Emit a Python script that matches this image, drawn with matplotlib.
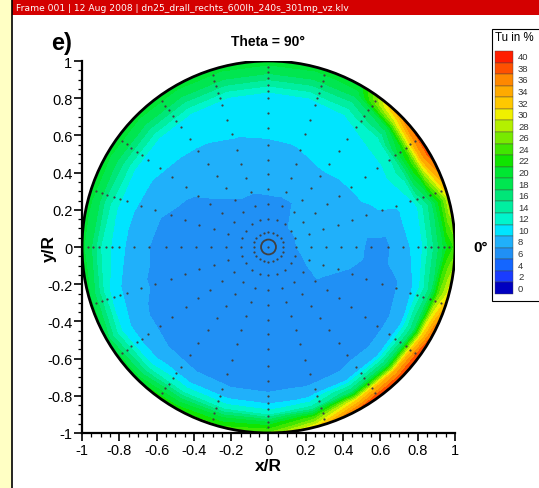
import numpy as np
import matplotlib
matplotlib.use("Agg")
import matplotlib.pyplot as plt
import matplotlib.tri as mtri
import matplotlib.patches as mp

plt.rcParams["font.family"] = ["Liberation Sans", "DejaVu Sans"]

W, H = 539, 489

# ---- Tu field (%), read on polar rings; angle from +x, counter-clockwise ----
ANGLES = [0, 15, 30, 45, 60, 75, 90, 105, 120, 135, 150, 165,
          180, 195, 210, 225, 240, 255, 270, 285, 300, 315, 330, 345]
RINGS = [0.15, 0.30, 0.45, 0.60, 0.72, 0.82, 0.90, 0.95, 1.00]
TU_CENTER = 6.0
TU_R015 = [7, 7, 7, 7, 6.5, 5.8, 5.5, 5.5, 5.5, 5.5, 5.5, 5.5,
           5.5, 5.5, 5.5, 5.5, 5.5, 5.5, 5.5, 5.5, 5.5, 5.8, 6.2, 6.8]
TU_R030 = [8, 8, 7.6, 7.4, 7.3, 7.2, 7.2, 7, 7, 6.6, 6, 5.6,
           5.5, 5.5, 5.5, 5.5, 5.5, 5.5, 5.5, 5.5, 5.5, 6.2, 7.2, 7.6]
TU_R045 = [7.6, 8, 8.2, 8.4, 8.6, 8.4, 8.2, 7.9, 7.8, 7.5, 6.6, 6.2,
           6, 5.8, 5.8, 5.6, 5.5, 5.5, 5.5, 5.5, 5.5, 5.6, 6, 7.0]
TU_R060 = [6.2, 8.6, 9.4, 9.6, 9.6, 9.2, 9.1, 8.9, 8.6, 8.3, 7.6, 7,
           6.5, 6.3, 6.2, 6, 5.8, 5.8, 5.8, 5.8, 5.8, 5.8, 6, 6.2]
TU_R072 = [8, 8.8, 10.4, 10.4, 10.2, 10, 10, 9.8, 9.6, 9.4, 9, 8.6,
           8, 7.4, 6.8, 6.5, 6.3, 6.2, 6.2, 6.2, 6.2, 6.2, 6.3, 7]
TU_R082 = [10.5, 10.5, 14, 12, 11, 10.4, 10.2, 10.2, 10.4, 10.4, 10.4, 10.2,
           10, 9, 8, 7.8, 7.6, 7.5, 7.5, 7.6, 7.8, 8.2, 8.8, 9.5]
TU_R090 = [16, 16, 24, 18, 15, 15, 15, 15, 15, 15, 15, 14,
           13, 11.5, 10.5, 11.5, 12.5, 12.5, 12.5, 14, 17, 18, 17, 16]
TU_R095 = [20, 22, 34, 28, 18, 18, 18, 18, 18, 18, 18, 18,
           17, 16, 14, 16, 18, 19, 20, 24, 31, 33, 31, 25]
TU_R100 = [24, 30, 39, 36, 21, 20, 20, 20, 20, 20, 20, 20,
           20, 20, 19, 21, 23, 24, 26, 32, 39, 40, 39, 31]
TU_RINGS = [TU_R015, TU_R030, TU_R045, TU_R060, TU_R072,
            TU_R082, TU_R090, TU_R095, TU_R100]

# ---- measurement positions (301 points) ----
MP_RADII = [0.08, 0.15, 0.23, 0.31, 0.39, 0.47, 0.55, 0.64,
            0.72, 0.80, 0.84, 0.87, 0.91, 0.94, 0.97]
MP_ANGLES = list(range(0, 360, 18))

# ---- legend levels / colours ----
LEVELS = list(range(0, 42, 2))
COLORS = ["#0000c0", "#1a3cff", "#1466ff", "#2090f5", "#20b0fa", "#00e4ff",
          "#00f5cc", "#00eea0", "#00e678", "#00e650", "#00e632", "#10e400",
          "#40e600", "#78ea00", "#b4f000", "#f0f000", "#ffc800", "#ffaa00",
          "#ff8800", "#ff5000", "#ff1e00"]

fig = plt.figure(figsize=(W / 100, H / 100), dpi=100)
fig.patch.set_facecolor("white")

# frame decorations in pixel coordinates
deco = fig.add_axes([0, 0, 1, 1], zorder=-1)
deco.set_xlim(0, W); deco.set_ylim(H, 0); deco.axis("off")
deco.add_patch(mp.Rectangle((0, 0), 12, H, facecolor="#ffffc4", edgecolor="none"))
deco.plot([12, 12], [0, H], color="black", lw=1.2)
deco.add_patch(mp.Rectangle((12, 0), W - 12, 16, facecolor="#d40000", edgecolor="none"))
deco.text(16, 8.5, "Frame 001 | 12 Aug 2008 | dn25_drall_rechts_600lh_240s_301mp_vz.klv",
          color="white", fontsize=6.6, va="center", ha="left",
          family=["Liberation Sans Narrow", "DejaVu Sans"])

# main axes: x=-1 at px 82, x=1 at px 455; y=1 at px 62, y=-1 at px 434
ax = fig.add_axes([82 / W, (H - 434) / H, 373 / W, 372 / H])
ax.set_xlim(-1, 1); ax.set_ylim(-1, 1)

th = np.deg2rad(ANGLES)
half = np.deg2rad(7.5)
xs, ys, zs = [0.0], [0.0], [TU_CENTER]
for r, vals in zip(RINGS, TU_RINGS):
    rr = r / np.cos(half) if r >= 1.0 else r
    xs += list(rr * np.cos(th)); ys += list(rr * np.sin(th)); zs += vals
tri = mtri.Triangulation(xs, ys)
bounds = [l - 1 for l in LEVELS] + [LEVELS[-1] + 1]
cs = ax.tricontourf(tri, zs, levels=bounds, colors=COLORS, zorder=1)
clip = mp.Circle((0, 0), 1.0, transform=ax.transData)
cs.set_clip_path(clip)

ax.add_patch(mp.Circle((0, 0), 1.0, fill=False, edgecolor="black", lw=2, zorder=4))

# measurement points
mth = np.deg2rad(MP_ANGLES)
px = [0.0] + [r * np.cos(a) for r in MP_RADII for a in mth]
py = [0.0] + [r * np.sin(a) for r in MP_RADII for a in mth]
ax.plot(px, py, ls="none", marker="o", ms=1.6, mfc="#404040", mec="none", zorder=3)
ax.add_patch(mp.Circle((0, 0), 0.04, fill=False, edgecolor="#404040", lw=1.3, zorder=3))

# axes styling
for s in ("top", "right"):
    ax.spines[s].set_visible(False)
for s in ("left", "bottom"):
    ax.spines[s].set_linewidth(1.6)
ticks = [-1, -0.8, -0.6, -0.4, -0.2, 0, 0.2, 0.4, 0.6, 0.8, 1]
labels = ["-1", "-0.8", "-0.6", "-0.4", "-0.2", "0", "0.2", "0.4", "0.6", "0.8", "1"]
ax.set_xticks(ticks); ax.set_xticklabels(labels)
ax.set_yticks(ticks); ax.set_yticklabels(labels)
ax.set_xticks(np.arange(-1, 1.001, 0.05), minor=True)
ax.set_yticks(np.arange(-1, 1.001, 0.05), minor=True)
ax.tick_params(which="major", direction="out", length=6, width=1.2, labelsize=10.5, pad=1)
ax.tick_params(which="minor", direction="out", length=3, width=0.9)

ax.text(0, -1.175, "x/R", ha="center", va="center", fontsize=12.5, fontweight="bold", clip_on=False)
ax.text(-1.175, 0, "y/R", ha="center", va="center", rotation=90, fontsize=12.5,
        fontweight="bold", clip_on=False)
ax.text(1.135, 0.0, "0°", ha="center", va="center", fontsize=11, fontweight="bold", clip_on=False)
ax.text(0, 1.11, "Theta = 90°", ha="center", va="center", fontsize=10, fontweight="bold", clip_on=False)
ax.text(-1.11, 1.10, "e)", ha="center", va="center", fontsize=17, fontweight="bold", clip_on=False)

# legend (Tecplot style)
leg = fig.add_axes([0, 0, 1, 1], zorder=5)
leg.set_xlim(0, W); leg.set_ylim(H, 0); leg.axis("off")
leg.add_patch(mp.Rectangle((492, 30), 60, 272, facecolor="white", edgecolor="black", lw=0.8))
leg.text(495, 38, "Tu in %", fontsize=8.3, va="center", ha="left")
top, bot = 52, 295
bh = (bot - top) / len(LEVELS)
for i, (lev, col) in enumerate(zip(LEVELS[::-1], COLORS[::-1])):
    y0 = top + i * bh
    leg.add_patch(mp.Rectangle((495, y0), 18, bh, facecolor=col, edgecolor="#444444", lw=0.3))
    leg.text(518, y0 + bh / 2, str(lev), fontsize=6.8, va="center", ha="left", color="#333333")

fig.savefig("out.png", dpi=100)
